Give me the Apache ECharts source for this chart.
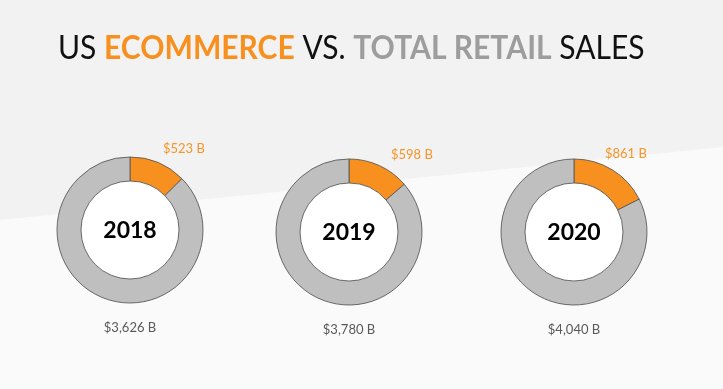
<!DOCTYPE html>
<html>
<head>
<meta charset="utf-8">
<script src="https://cdn.jsdelivr.net/npm/echarts@6/dist/echarts.min.js"></script>
<style>html,body{margin:0;padding:0;background:#fafafa;}#c{width:723px;height:389px;}</style>
</head>
<body>
<div id="c"></div>
<script>
// ---- data ----
var years = ['2018', '2019', '2020'];
var ecommerce = [523, 598, 861];      // $ billions
var totalRetail = [3626, 3780, 4040]; // $ billions

// ---- layout ----
var centers = [[130, 230], [349, 232], [574, 232]];
var outerR = 73, innerR = 49;
var ecomLabelOffset = [[33, -83], [42, -79], [31, -80]]; // left edge / vertical middle
var totalLabelDy = 99;

var ORANGE = '#f7901e', GRAY = '#bfbfbf';

var chart = echarts.init(document.getElementById('c'), null, {renderer: 'canvas'});

var series = [];
var titles = [];
years.forEach(function (y, i) {
  series.push({
    type: 'pie', silent: true, z: 1,
    center: centers[i], radius: [0, innerR],
    label: {show: false}, labelLine: {show: false},
    itemStyle: {color: '#ffffff'},
    data: [{value: 1, name: 'hole'}]
  });
  series.push({
    type: 'pie', silent: true, z: 2,
    center: centers[i], radius: [innerR, outerR],
    startAngle: 90, clockwise: true,
    label: {show: false}, labelLine: {show: false},
    itemStyle: {borderColor: '#5a5a5a', borderWidth: 0.9},
    data: [
      {value: ecommerce[i], name: 'Ecommerce', itemStyle: {color: ORANGE}},
      {value: totalRetail[i], name: 'Total Retail', itemStyle: {color: GRAY}}
    ]
  });
  titles.push({
    text: y, left: centers[i][0], top: centers[i][1] - 11, textAlign: 'center', padding: 0,
    textStyle: {fontFamily: 'Lato', fontWeight: 'bold', fontSize: 23, color: '#000'}
  });
  titles.push({
    text: '$' + ecommerce[i] + ' B',
    left: centers[i][0] + ecomLabelOffset[i][0], top: centers[i][1] + ecomLabelOffset[i][1] - 5,
    padding: 0,
    textStyle: {fontFamily: 'Lato', fontWeight: 'normal', fontSize: 13, color: '#f7952a'}
  });
  titles.push({
    text: '$' + totalRetail[i].toLocaleString('en-US') + ' B',
    left: centers[i][0], top: centers[i][1] + totalLabelDy - 8, textAlign: 'center', padding: 0,
    textStyle: {fontFamily: 'Lato', fontWeight: 'normal', fontSize: 13, color: '#595959'}
  });
});

chart.setOption({
  backgroundColor: '#fafafa',
  animation: false,
  title: titles,
  graphic: [
    {type: 'polygon', z: -10, silent: true,
      shape: {points: [[0, 0], [723, 0], [723, 147], [0, 220]]},
      style: {fill: '#f2f2f2'}},
    {type: 'text', z: 10, x: 58, y: 32, scaleX: 0.91, silent: true,
      style: {
        text: '{n|US }{o|ECOMMERCE}{n| VS. }{g|TOTAL RETAIL}{n| SALES}',
        rich: {
          n: {fontFamily: 'Lato', fontSize: 33, fontWeight: 'normal', fill: '#111'},
          o: {fontFamily: 'Lato', fontSize: 33, fontWeight: 'bold', fill: ORANGE},
          g: {fontFamily: 'Lato', fontSize: 33, fontWeight: 'bold', fill: '#9d9d9d'}
        }
      }}
  ],
  series: series
});
</script>
</body>
</html>
